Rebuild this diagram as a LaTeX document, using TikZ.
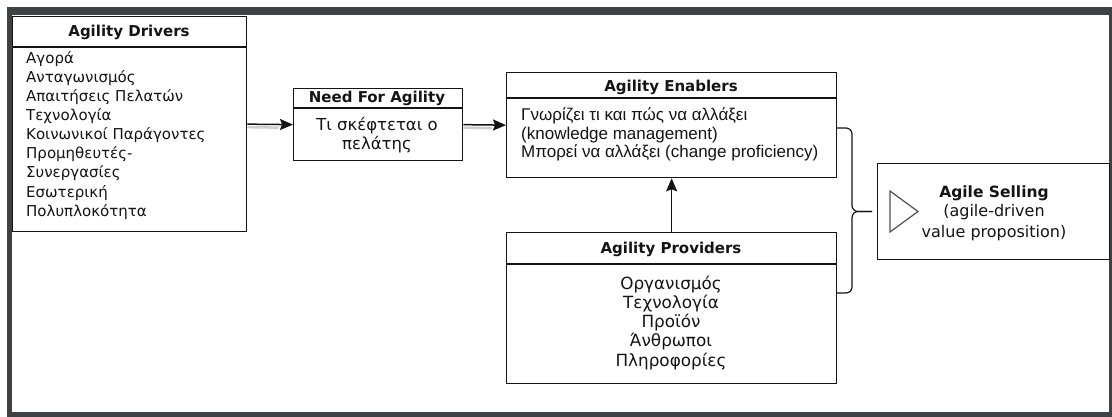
\documentclass[tikz,border=0pt]{standalone}
\usepackage{fontspec}
\setmainfont{DejaVu Sans}
\newfontfamily\arialfont{Liberation Sans}
\usetikzlibrary{arrows.meta}
\definecolor{framegray}{HTML}{3E4245}
\definecolor{ink}{HTML}{141414}
\definecolor{shade}{HTML}{CFCFCF}
\definecolor{tri}{HTML}{505050}

\begin{document}
\begin{tikzpicture}[x=1pt,y=-1pt,
  box/.style={draw=ink, line width=1.3pt, fill=white, inner sep=0pt, anchor=north west},
  divider/.style={draw=ink, line width=1.2pt},
  headtxt/.style={font=\fontsize{15}{18}\selectfont\bfseries, text=ink, inner sep=0pt, anchor=base},
  bodytxt/.style={font=\fontsize{15}{19}\selectfont, text=ink, inner sep=0pt},
  arialtxt/.style={font=\arialfont\fontsize{17}{19}\selectfont, text=ink, inner sep=0pt, anchor=base west},
  conn/.style={draw=ink, line width=1.5pt, -{Stealth[length=13pt,width=11pt,inset=2pt]}},
  shadowline/.style={draw=shade, line width=2.5pt},
  bracepath/.style={draw=ink, line width=1.2pt, rounded corners=6pt}
]
\useasboundingbox (0,0) rectangle (1112,417);

% window frame
\fill[framegray] (7,7) rectangle (1112,417);
\fill[white] (12,15) rectangle (1109,412);

% Agility Drivers
\node[box, minimum width=234pt, minimum height=215pt] (drv) at (12,16) {};
\draw[divider] (drv.west |- 0,47) -- (drv.east |- 0,47);
\node[headtxt] (drvh) at (129,37) {Agility Drivers};
\foreach \t [count=\i] in {Αγορά, Ανταγωνισμός, Απαιτήσεις Πελατών, Τεχνολογία,
  Κοινωνικοί Παράγοντες, Προμηθευτές-, Συνεργασίες, Εσωτερική, Πολυπλοκότητα}
  \node[bodytxt, anchor=base west] (drv-\i) at (26, {45+19*\i}) {\t};

% Need For Agility
\node[box, minimum width=169pt, minimum height=72pt] (need) at (293,88) {};
\draw[divider] (need.west |- 0,108) -- (need.east |- 0,108);
\node[headtxt] (needh) at (377,103) {Need For Agility};
\node[bodytxt, font=\fontsize{16.5}{19}\selectfont, anchor=base] (need-1) at (377,131) {Τι σκέφτεται ο};
\node[bodytxt, font=\fontsize{16.5}{19}\selectfont, anchor=base] (need-2) at (377,150) {πελάτης};

% Agility Enablers
\node[box, minimum width=330pt, minimum height=105pt] (ena) at (506,72) {};
\draw[divider] (ena.west |- 0,98) -- (ena.east |- 0,98);
\node[headtxt] (enah) at (671,92) {Agility Enablers};
\node[arialtxt] (ena-1) at (521,121) {Γνωρίζει τι και πώς να αλλάξει};
\node[arialtxt] (ena-2) at (521,139.5) {(knowledge management)};
\node[arialtxt] (ena-3) at (521,158) {Μπορεί να αλλάξει (change proficiency)};

% Agility Providers
\node[box, minimum width=330pt, minimum height=151pt] (prov) at (506,232) {};
\draw[divider] (prov.west |- 0,264) -- (prov.east |- 0,264);
\node[headtxt] (provh) at (671,253) {Agility Providers};
\foreach \t [count=\i] in {Οργανισμός, Τεχνολογία, Προϊόν, Άνθρωποι, Πληροφορίες}
  \node[bodytxt, font=\fontsize{16.8}{19}\selectfont, anchor=base] (prov-\i) at (671, {270+19.2*\i}) {\t};

% Agile Selling
\node[box, minimum width=232pt, minimum height=96pt] (sell) at (877,163) {};
\draw[draw=tri, line width=1.2pt, line join=miter] (890,191) -- (918,211.5) -- (890,232) -- cycle;
\node[headtxt, font=\fontsize{15.5}{18}\selectfont\bfseries] (sellh) at (994,198) {Agile Selling};
\node[bodytxt, font=\fontsize{16}{19}\selectfont, anchor=base] (sell-1) at (994,217) {(agile-driven};
\node[bodytxt, font=\fontsize{16}{19}\selectfont, anchor=base] (sell-2) at (994,237) {value proposition)};

% connectors (a soft grey under-stroke runs beneath the horizontal ones)
\draw[shadowline] ([yshift=-3pt]drv.east) -- ([yshift=-3pt,xshift=-14pt]need.west);
\draw[shadowline] ([yshift=-3pt]need.east) -- ([yshift=-3pt,xshift=-14pt]ena.west);
\draw[conn] (drv.east) -- (need.west);
\draw[conn] (need.east) -- (ena.west);
\draw[conn] (prov.north) -- (ena.south);

% curly brace joining enablers and providers into selling
\coordinate (bt) at (836,128);
\coordinate (bb) at (836,293);
\coordinate (tip) at (872,211.5);
\draw[bracepath] (bt) -- (852,128) -- (852,211.5) -- (tip);
\draw[bracepath] (bb) -- (852,293) -- (852,211.5) -- (tip);
\end{tikzpicture}
\end{document}
